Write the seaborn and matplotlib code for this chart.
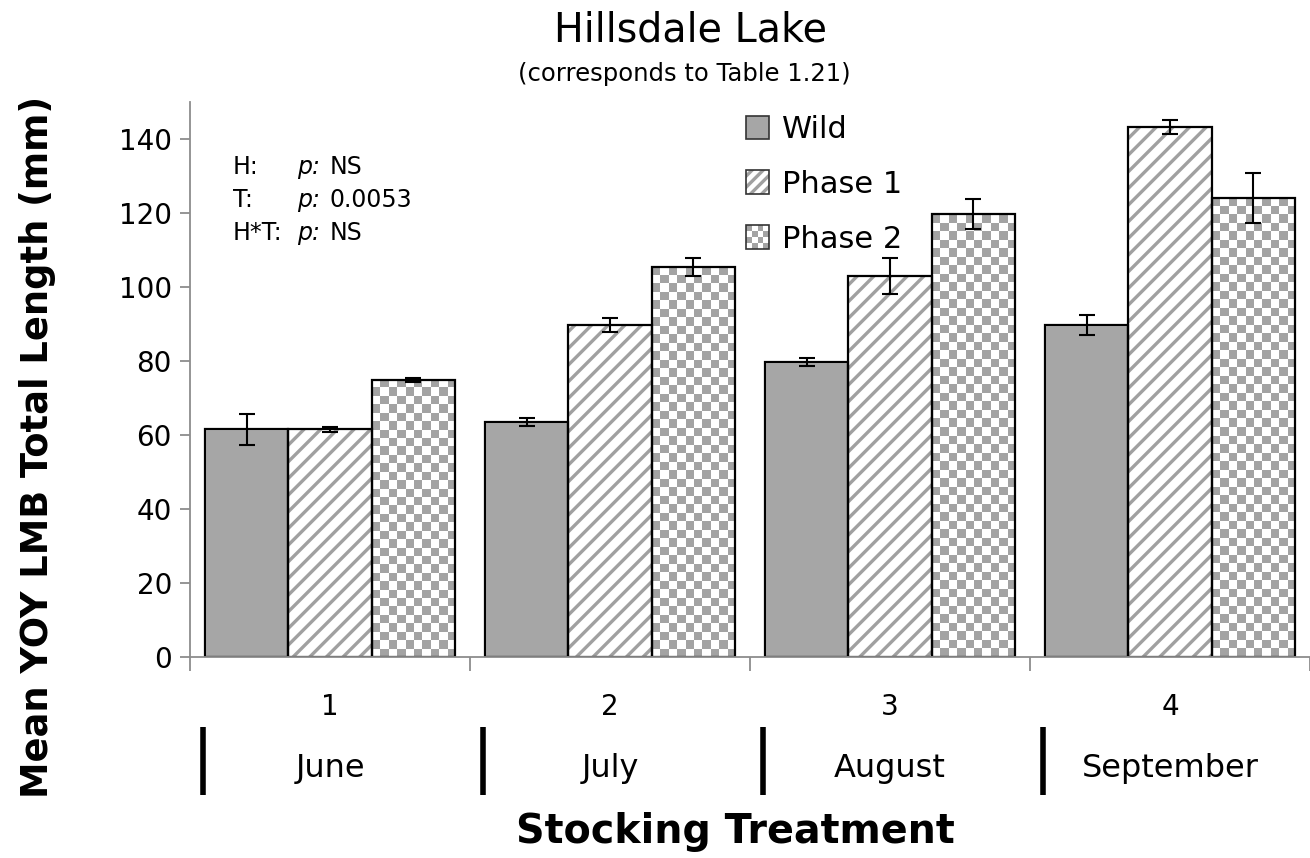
import numpy as np
import pandas as pd
import matplotlib
matplotlib.use("Agg")
import matplotlib.pyplot as plt
import seaborn as sns
from matplotlib.colors import ListedColormap
from matplotlib.patches import Rectangle, Patch
from matplotlib.legend_handler import HandlerBase
from matplotlib.transforms import blended_transform_factory

# data
treatments = ["1", "2", "3", "4"]
months = ["June", "July", "August", "September"]
groups = ["Wild", "Phase 1", "Phase 2"]
wild = [61.5, 63.5, 79.7, 89.7]
phase1 = [61.5, 89.7, 103.0, 143.2]
phase2 = [74.9, 105.5, 119.7, 124.1]
wild_err = [4.3, 1.0, 1.0, 2.6]
phase1_err = [0.7, 1.8, 4.8, 1.9]
phase2_err = [0.6, 2.4, 4.0, 6.7]
stats_labels = ["H:", "T:", "H*T:"]
stats_values = ["NS", "0.0053", "NS"]

GRAY = "#a6a6a6"
SPINE = "#8c8c8c"

df = pd.DataFrame({
    "treatment": treatments * 3,
    "group": [g for g in groups for _ in treatments],
    "length": wild + phase1 + phase2,
    "err": wild_err + phase1_err + phase2_err,
})

sns.set_style("white")
plt.rcParams["font.family"] = ["DejaVu Sans"]
plt.rcParams["text.color"] = "black"
plt.rcParams["xtick.color"] = "black"
plt.rcParams["ytick.color"] = "black"
plt.rcParams["hatch.linewidth"] = 2.4

fig = plt.figure(figsize=(13.1, 8.58), dpi=100)
ax = fig.add_axes([190 / 1310, 1 - 657 / 858, 1120 / 1310, 555 / 858])

sns.barplot(data=df, x="treatment", y="length", hue="group", order=treatments,
            hue_order=groups, palette={"Wild": GRAY, "Phase 1": "white", "Phase 2": "white"},
            width=0.893, errorbar=None, saturation=1, ax=ax, legend=False)
bar_containers = list(ax.containers)

ax.set_xlim(-0.5, 3.5)
ax.set_ylim(0, 150)

# pixels per data unit, for the checker texture
px_x = ax.get_position().width * 1310 / 4.0
px_y = ax.get_position().height * 858 / 150.0
checker_cmap = ListedColormap(["white", "#a3a3a3"])

for gi, cont in enumerate(bar_containers):
    for bar in cont.patches:
        x0, w, h = bar.get_x(), bar.get_width(), bar.get_height()
        if groups[gi] == "Phase 1":
            bar.set_hatch("//")
            bar.set_edgecolor("#a0a0a0")
            bar.set_linewidth(0)
        elif groups[gi] == "Phase 2":
            nx = max(int(round(w * px_x / 8.5)), 1)
            ny = max(int(round(h * px_y / 8.5)), 1)
            yy, xx = np.indices((ny, nx))
            img = (xx + yy) % 2
            ax.imshow(img, cmap=checker_cmap, extent=(x0, x0 + w, 0, h), origin="lower",
                      aspect="auto", interpolation="nearest", zorder=1.5)
        ax.add_patch(Rectangle((x0, 0), w, h, fill=False, edgecolor="black",
                               linewidth=1.6, zorder=2))

# error bars
for gi, cont in enumerate(bar_containers):
    sub = df[df["group"] == groups[gi]]
    xs = [b.get_x() + b.get_width() / 2 for b in cont.patches]
    ax.errorbar(xs, sub["length"], yerr=sub["err"], fmt="none", ecolor="black",
                elinewidth=1.5, capsize=6, capthick=1.5, zorder=3)

ax.set_xlim(-0.5, 3.5)
ax.set_ylim(0, 150)

# axes styling
for s in ["top", "right"]:
    ax.spines[s].set_visible(False)
for s in ["left", "bottom"]:
    ax.spines[s].set_color(SPINE)
    ax.spines[s].set_linewidth(1.3)
ax.set_yticks(np.arange(0, 141, 20))
ax.tick_params(axis="y", labelsize=20, length=7, color=SPINE, labelcolor="black",
               width=1.3, left=True, pad=6)
ax.set_xticks(range(len(treatments)))
ax.set_xticklabels(treatments)
ax.tick_params(axis="x", which="major", length=0, labelsize=20, labelcolor="black", pad=26)
ax.set_xticks(np.arange(-0.5, 4.0, 1.0), minor=True)
ax.tick_params(axis="x", which="minor", length=10, color=SPINE, width=1.3, bottom=True)
ax.set_xlabel("")
ax.set_ylabel("")

fig.text(38 / 1310, 1 - 447 / 858, "Mean YOY LMB Total Length (mm)", rotation=90,
         ha="center", va="center", fontsize=26.5, fontweight="bold")

# month row with separators
tr = blended_transform_factory(ax.transData, ax.transAxes)
for i, m in enumerate(months):
    ax.text(i, -0.2, m, transform=tr, ha="center", va="center", fontsize=23, clip_on=False)
    ax.plot([i - 0.455, i - 0.455], [-0.126, -0.248], transform=tr, color="black",
            linewidth=4, clip_on=False, solid_capstyle="butt")

fig.text(735 / 1310, 1 - 832 / 858, "Stocking Treatment", ha="center", va="center",
         fontsize=28.5, fontweight="bold")

# titles
fig.text(690 / 1310, 1 - 30 / 858, "Hillsdale Lake", ha="center", va="center", fontsize=28.5)
fig.text(684 / 1310, 1 - 74 / 858, "(corresponds to Table 1.21)", ha="center", va="center",
         fontsize=17.5)

# stats annotation
for i, (lab, val) in enumerate(zip(stats_labels, stats_values)):
    yy = 1 - (167 + i * 33) / 858
    fig.text(233 / 1310, yy, lab, ha="left", va="center", fontsize=17)
    fig.text(297 / 1310, yy, "p:", ha="left", va="center", fontsize=17, style="italic")
    fig.text(330 / 1310, yy, val, ha="left", va="center", fontsize=17)


# legend with checker handle
class CheckerHandler(HandlerBase):
    def create_artists(self, legend, orig_handle, xdescent, ydescent, width, height,
                       fontsize, trans):
        side = min(width, height)
        x0 = -xdescent + (width - side) / 2
        y0 = -ydescent + (height - side) / 2
        n = 4
        c = side / n
        arts = [Rectangle((x0, y0), side, side, facecolor="white", edgecolor="none",
                          transform=trans)]
        for i in range(n):
            for j in range(n):
                if (i + j) % 2 == 1:
                    arts.append(Rectangle((x0 + i * c, y0 + j * c), c, c, facecolor="#a3a3a3",
                                          edgecolor="none", transform=trans))
        arts.append(Rectangle((x0, y0), side, side, fill=False, edgecolor="#333333",
                              linewidth=1.2, transform=trans))
        return arts


class SquareHandler(HandlerBase):
    def create_artists(self, legend, orig_handle, xdescent, ydescent, width, height,
                       fontsize, trans):
        side = min(width, height)
        x0 = -xdescent + (width - side) / 2
        y0 = -ydescent + (height - side) / 2
        r = Rectangle((x0, y0), side, side, facecolor=orig_handle.get_facecolor(),
                      edgecolor="#a0a0a0" if orig_handle.get_hatch() else "none",
                      hatch=orig_handle.get_hatch(), linewidth=0, transform=trans)
        b = Rectangle((x0, y0), side, side, fill=False, edgecolor="#333333",
                      linewidth=1.2, transform=trans)
        return [r, b]


h_wild = Patch(facecolor=GRAY)
h_p1 = Patch(facecolor="white", hatch="///")
h_p2 = Patch(facecolor="white")
leg = fig.legend([h_wild, h_p1, h_p2], groups, loc="upper left",
                 bbox_to_anchor=(745 / 1310, 1 - 115 / 858), frameon=False, fontsize=22,
                 handlelength=0.82, handleheight=0.82, handletextpad=0.4, labelspacing=0.85,
                 borderpad=0, borderaxespad=0,
                 handler_map={h_wild: SquareHandler(), h_p1: SquareHandler(),
                              h_p2: CheckerHandler()})

fig.savefig("out.png", dpi=100)
